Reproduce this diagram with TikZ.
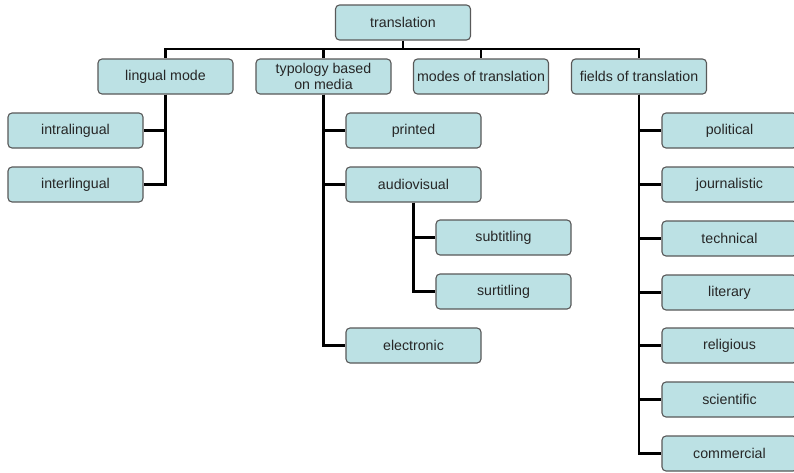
\documentclass[tikz,border=0pt]{standalone}
\usepackage{fontspec}
\setmainfont{Liberation Sans}
\begin{document}
\begin{tikzpicture}[x=1pt,y=-1pt,
  box/.style={draw=black!65, line width=1.1pt, fill=boxfill, rounded corners=4pt,
    minimum width=135pt, minimum height=35pt, inner sep=1pt, align=center,
    font=\fontsize{14.2pt}{16pt}\selectfont, text=black!85},
  conn/.style={line width=2.8pt, black}]
\definecolor{boxfill}{HTML}{BCE1E4}
\useasboundingbox (0,0) rectangle (794,472);
\fill[white] (0,0) rectangle (794,472);
\node[box] (trans) at (403,22.5) {translation};
\node[box] (lingual) at (165.5,76.5) {lingual mode};
\node[box] (typo) at (323.5,76.5) {typology based\\on media};
\node[box] (modes) at (481,76.5) {modes of translation};
\node[box] (fields) at (639,76.5) {fields of translation};
\node[box] (intra) at (75.5,130.5) {intralingual};
\node[box] (inter) at (75.5,184.5) {interlingual};
\node[box] (printed) at (413.5,130.5) {printed};
\node[box] (audio) at (413.5,184.5) {audiovisual};
\node[box] (sub) at (503.5,237.5) {subtitling};
\node[box] (sur) at (503.5,291.5) {surtitling};
\node[box] (elec) at (413.5,345.5) {electronic};
\node[box] (pol) at (729.5,130.5) {political};
\node[box] (jour) at (729.5,184.5) {journalistic};
\node[box] (tech) at (729.5,238.5) {technical};
\node[box] (lit) at (729.5,292.5) {literary};
\node[box] (rel) at (729.5,345.5) {religious};
\node[box] (sci) at (729.5,399.5) {scientific};
\node[box] (com) at (729.5,453.5) {commercial};
\begin{scope}[on background layer/.try]
\end{scope}
\coordinate (bus) at (403,49);
\draw[conn] (trans.south) -- (bus);
\foreach \c in {lingual,typo,modes,fields} \draw[conn] (bus) -| (\c.north);
\draw[conn] (lingual.south) |- (intra.east);
\draw[conn] (lingual.south) |- (inter.east);
\foreach \c in {printed,audio,elec} \draw[conn] (typo.south) |- (\c.west);
\foreach \c in {sub,sur} \draw[conn] (audio.south) |- (\c.west);
\foreach \c in {pol,jour,tech,lit,rel,sci,com} \draw[conn] (fields.south) |- (\c.west);
\end{tikzpicture}
\end{document}
